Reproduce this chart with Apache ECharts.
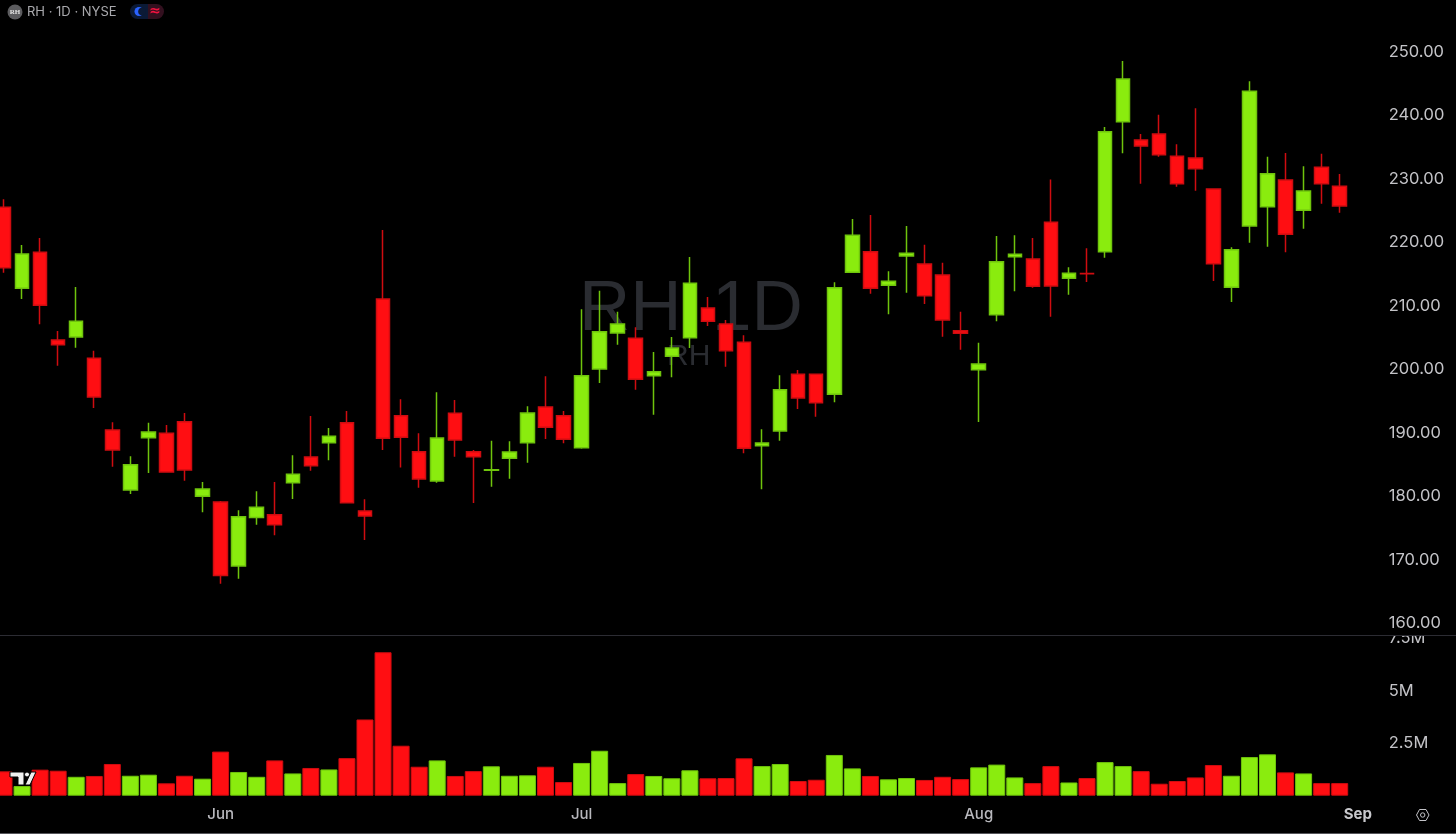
<!DOCTYPE html>
<html>
<head>
<meta charset="utf-8">
<title>RH 1D</title>
<script src="https://cdn.jsdelivr.net/npm/echarts@6/dist/echarts.min.js"></script>
<style>
  html, body { margin: 0; padding: 0; background: #000; }
  #chart { width: 1456px; height: 834px; }
</style>
</head>
<body>
<div id="chart"></div>
<script>
// daily bars
const opens = [225.52,212.76,218.43,204.61,205.08,201.73,190.43,180.97,189.21,189.91,191.74,179.98,179.08,168.99,176.61,177.08,182.12,186.17,188.43,191.58,177.66,211.07,192.68,187.01,182.39,193.06,187.01,184.09,185.97,188.43,194.05,192.68,187.64,200.04,205.71,204.88,198.98,202.04,204.97,209.65,207.13,204.25,187.95,190.27,199.21,199.21,196.05,215.28,218.53,213.23,217.85,216.59,214.86,206.08,199.93,208.60,217.74,217.38,223.16,214.34,215.09,218.53,239.02,236.13,237.08,233.56,233.29,228.41,212.92,222.58,225.62,229.83,225.05,231.83,228.83];
const closes = [216.01,218.16,210.08,203.87,207.56,195.63,187.28,184.96,190.11,183.81,184.12,181.13,167.47,176.76,178.24,175.50,183.45,184.80,189.43,178.97,176.87,189.12,189.28,182.70,189.17,188.85,186.22,184.15,186.96,193.11,190.85,188.96,198.98,205.92,207.13,198.42,199.62,203.35,213.55,207.56,202.93,187.54,188.38,196.78,195.47,194.73,212.85,221.11,212.76,213.86,218.28,211.59,207.76,205.67,200.83,216.95,218.12,213.07,213.10,215.12,215.03,237.44,245.74,235.19,233.81,229.24,231.61,216.64,218.84,243.81,230.82,221.27,228.09,229.24,225.73];
const lows = [215.22,211.07,207.09,200.56,203.40,193.89,184.64,180.34,183.65,183.70,182.44,177.46,166.20,166.99,175.50,173.83,179.55,184.01,185.65,178.90,173.09,187.28,184.49,181.33,182.12,186.22,178.92,181.49,182.75,185.27,189.01,188.33,187.48,197.83,203.87,196.78,192.84,198.73,203.35,206.82,200.40,186.76,181.08,188.74,193.74,192.52,194.79,215.20,211.91,208.66,212.07,210.28,205.13,203.08,191.69,207.56,212.29,212.85,208.28,211.75,213.75,217.58,234.04,229.24,233.50,228.77,228.14,213.91,210.60,219.95,219.32,218.43,222.15,226.09,224.67];
const highs = [226.79,219.58,220.69,206.03,212.96,202.93,191.64,186.28,191.58,191.22,193.11,182.23,179.24,177.77,180.77,182.23,186.44,192.63,190.74,193.42,179.51,221.95,195.27,189.91,196.37,195.16,187.28,188.74,188.65,194.16,198.89,193.42,209.45,212.38,209.07,206.61,202.72,205.08,217.69,211.39,207.76,205.35,190.54,199.05,199.88,199.25,213.70,223.68,224.31,215.44,222.58,219.63,216.79,209.07,204.19,221.00,221.11,220.69,229.91,216.07,219.06,238.18,248.58,237.08,240.12,235.45,241.13,228.45,219.22,245.38,233.50,234.08,231.99,233.97,230.77];
// volume in millions
const volumes = [1.16,0.46,1.24,1.19,0.90,0.94,1.51,0.95,1.00,0.59,0.95,0.81,2.10,1.13,0.90,1.68,1.06,1.32,1.25,1.79,3.63,6.83,2.38,1.38,1.68,0.94,1.17,1.40,0.95,0.97,1.38,0.65,1.56,2.14,0.60,1.03,0.94,0.83,1.21,0.83,0.84,1.78,1.41,1.51,0.70,0.76,1.94,1.30,0.94,0.78,0.84,0.75,0.90,0.79,1.35,1.48,0.87,0.60,1.41,0.63,0.84,1.60,1.41,1.17,0.57,0.70,0.87,1.46,0.95,1.84,1.97,1.11,1.06,0.60,0.60];
// bar index -> month label, Sep falls one slot after the last bar
const monthTicks = { 12: "Jun", 32: "Jul", 54: "Aug", 75: "Sep" };
const slotCount = 76;

const UP = "#8aec0e", UP_EDGE = "#6fc40c", DOWN = "#ff0e12", DOWN_EDGE = "#cf0c10";
const TEXT = "#c3c3c7";
const FONT = "Inter, Roboto, 'Liberation Sans', sans-serif";
const MARK_FONT = "'Liberation Sans', sans-serif";
const slot = 18.05;

const categories = [];
for (let i = 0; i < slotCount; i++) categories.push(monthTicks[i] || "");

const candleData = opens.map((o, i) => [o, closes[i], lows[i], highs[i]]);
const volumeData = volumes.map((v, i) => {
  const up = closes[i] >= opens[i];
  return { value: v, itemStyle: { color: up ? UP : DOWN, borderColor: up ? UP_EDGE : DOWN_EDGE, borderWidth: 1 } };
});

const chart = echarts.init(document.getElementById("chart"), null, { renderer: "canvas" });
chart.setOption({
  backgroundColor: "#000",
  animation: false,
  grid: [
    // first bar is cut by the left edge, so the grid starts off canvas
    { left: 4 - slot / 2, top: 52, width: slot * slotCount, height: 571, outerBoundsMode: "none" },
    { left: 4 - slot / 2, top: 638.2, width: slot * slotCount, height: 157.5, outerBoundsMode: "none" }
  ],
  xAxis: [
    { type: "category", gridIndex: 0, data: categories, axisLine: { show: false }, axisTick: { show: false }, axisLabel: { show: false }, splitLine: { show: false } },
    {
      type: "category", gridIndex: 1, data: categories,
      axisLine: { show: false }, axisTick: { show: false }, splitLine: { show: false },
      axisLabel: {
        interval: 0, margin: 11, color: "#b8b8bd", fontFamily: FONT, fontSize: 15, fontWeight: 500,
        formatter: v => (v === "Sep" ? "{b|Sep}" : v),
        rich: { b: { color: "#c8c8cc", fontFamily: FONT, fontSize: 15, fontWeight: 700 } }
      }
    }
  ],
  yAxis: [
    {
      type: "value", gridIndex: 0, position: "right", min: 160, max: 250, interval: 10,
      axisLine: { show: false }, axisTick: { show: false }, splitLine: { show: false },
      axisLabel: { margin: 22, padding: [3, 0, 0, 0], color: TEXT, fontFamily: FONT, fontSize: 16.5, formatter: v => v.toFixed(2) }
    },
    {
      type: "value", gridIndex: 1, position: "right", min: 0, max: 7.5, interval: 2.5,
      axisLine: { show: false }, axisTick: { show: false }, splitLine: { show: false },
      axisLabel: { margin: 22, padding: [3, 0, 0, 0], color: TEXT, fontFamily: FONT, fontSize: 16.5, formatter: v => (v === 0 ? "" : v + "M") }
    }
  ],
  series: [
    {
      type: "candlestick", xAxisIndex: 0, yAxisIndex: 0, data: candleData, barWidth: 14,
      itemStyle: { color: UP, color0: DOWN, borderColor: UP_EDGE, borderColor0: DOWN_EDGE, borderWidth: 1.5 }
    },
    { type: "bar", xAxisIndex: 1, yAxisIndex: 1, data: volumeData, barWidth: 17 }
  ],
  graphic: [
    // watermark sits behind the bars
    { type: "text", z: 0, x: 579, y: 310, style: { text: "RH", fill: "#2a2c31", font: "71px " + MARK_FONT, verticalAlign: "middle" } },
    { type: "text", z: 0, x: 712, y: 310, style: { text: "1D", fill: "#2a2c31", font: "71px " + MARK_FONT, verticalAlign: "middle" } },
    { type: "text", z: 0, x: 667, y: 357, style: { text: "RH", fill: "#2a2c31", font: "30px " + MARK_FONT, verticalAlign: "middle" } },
    // pane divider hides the top of the 7.5M label
    { type: "rect", z: 50, shape: { x: 1375, y: 630, width: 81, height: 6 }, style: { fill: "#000" } },
    { type: "line", z: 51, shape: { x1: 0, y1: 635.5, x2: 1456, y2: 635.5 }, style: { stroke: "#2c2c33", lineWidth: 1 } },
    { type: "line", z: 51, shape: { x1: 0, y1: 833.5, x2: 1456, y2: 833.5 }, style: { stroke: "#55555a", lineWidth: 1 } },
    // header
    { type: "circle", z: 60, shape: { cx: 15, cy: 12, r: 7.5 }, style: { fill: "#5c5c5f" } },
    { type: "text", z: 61, x: 15, y: 12, style: { text: "RH", fill: "#e4e4e4", font: "bold 7px 'Liberation Serif', serif", align: "center", verticalAlign: "middle" } },
    { type: "text", z: 60, x: 27, y: 12, style: { text: "RH · 1D · NYSE", fill: "#a9a9ad", font: "13px " + FONT, verticalAlign: "middle" } },
    { type: "rect", z: 60, shape: { x: 130, y: 4, width: 18, height: 15, r: [7.5, 0, 0, 7.5] }, style: { fill: "#0b1a36" } },
    { type: "rect", z: 60, shape: { x: 148, y: 4, width: 16, height: 15, r: [0, 7.5, 7.5, 0] }, style: { fill: "#33101f" } },
    { type: "circle", z: 61, shape: { cx: 139, cy: 11.5, r: 4.5 }, style: { fill: "#2a62ff" } },
    { type: "circle", z: 62, shape: { cx: 142, cy: 11.5, r: 3.8 }, style: { fill: "#0b1a36" } },
    { type: "text", z: 61, x: 155, y: 11, style: { text: "≈", fill: "#f0123f", font: "bold 14px 'DejaVu Sans'", align: "center", verticalAlign: "middle" } },
    // tradingview mark over the first volume bars
    { type: "polygon", z: 60, shape: { points: [[10, 772], [24, 772], [24, 785], [18, 785], [18, 777], [10, 777]] }, style: { fill: "#f0f0f0", stroke: "#000", lineWidth: 1 } },
    { type: "circle", z: 60, shape: { cx: 27, cy: 774.5, r: 2.5 }, style: { fill: "#f0f0f0", stroke: "#000", lineWidth: 1 } },
    { type: "polygon", z: 60, shape: { points: [[31, 772], [36, 772], [30, 785], [25, 785]] }, style: { fill: "#f0f0f0", stroke: "#000", lineWidth: 1 } },
    // settings glyph, bottom right
    { type: "polygon", z: 60, shape: { points: [[1416.5, 815], [1419.5, 809.5], [1426, 809.5], [1429, 815], [1426, 820.5], [1419.5, 820.5]] }, style: { fill: "none", stroke: "#c3c3c7", lineWidth: 1 } },
    { type: "circle", z: 60, shape: { cx: 1422.7, cy: 815, r: 2.2 }, style: { fill: "none", stroke: "#c3c3c7", lineWidth: 1 } }
  ]
});
</script>
</body>
</html>
